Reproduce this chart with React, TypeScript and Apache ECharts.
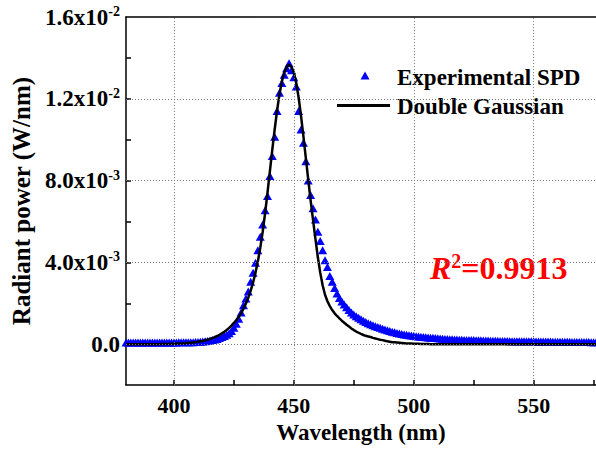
import React, { useEffect, useRef } from "react";
import * as echarts from "echarts";

const FONT = "Liberation Serif";

// Wavelength sampling grid (nm): 380 … 576, 1 nm step
const wavelengthStart = 380;
const wavelengthStep = 1;

// Experimental SPD, in units of 1e-3 W/nm
const experimentalSPD = [
  0.08, 0.08, 0.08, 0.08, 0.08, 0.08, 0.08, 0.08, 0.08, 0.08,
  0.08, 0.08, 0.08, 0.08, 0.08, 0.08, 0.08, 0.08, 0.08, 0.08,
  0.08, 0.08, 0.09, 0.09, 0.09, 0.09, 0.10, 0.10, 0.10, 0.11,
  0.11, 0.12, 0.13, 0.14, 0.16, 0.18, 0.20, 0.23, 0.26, 0.30,
  0.35, 0.40, 0.46, 0.53, 0.64, 0.80, 1.00, 1.25, 1.55, 1.90,
  2.23, 2.58, 3.05, 3.50, 3.98, 4.60, 5.25, 5.85, 6.55, 7.25,
  8.22, 9.20, 10.14, 11.40, 12.30, 12.77, 13.17, 13.50, 13.74, 13.40,
  13.05, 12.60, 11.40, 10.50, 9.85, 8.95, 8.00, 7.30, 6.65, 6.10,
  5.50, 5.05, 4.60, 4.10, 3.77, 3.33, 3.05, 2.75, 2.48, 2.26,
  2.09, 1.94, 1.81, 1.67, 1.55, 1.45, 1.37, 1.29, 1.22, 1.15,
  1.09, 1.03, 0.98, 0.93, 0.88, 0.84, 0.80, 0.76, 0.72, 0.68,
  0.64, 0.61, 0.58, 0.55, 0.52, 0.50, 0.48, 0.46, 0.44, 0.42,
  0.41, 0.39, 0.38, 0.36, 0.35, 0.34, 0.33, 0.32, 0.31, 0.30,
  0.29, 0.28, 0.27, 0.26, 0.25, 0.24, 0.24, 0.23, 0.23, 0.22,
  0.22, 0.21, 0.21, 0.20, 0.20, 0.20, 0.19, 0.19, 0.19, 0.18,
  0.18, 0.18, 0.17, 0.17, 0.17, 0.17, 0.16, 0.16, 0.16, 0.16,
  0.15, 0.15, 0.15, 0.15, 0.15, 0.14, 0.14, 0.14, 0.14, 0.14,
  0.14, 0.13, 0.13, 0.13, 0.13, 0.13, 0.13, 0.13, 0.12, 0.12,
  0.12, 0.12, 0.12, 0.12, 0.12, 0.12, 0.11, 0.11, 0.11, 0.11,
  0.11, 0.11, 0.11, 0.11, 0.10, 0.10, 0.10,
];

// Double Gaussian fit, in units of 1e-3 W/nm
const doubleGaussianFit = [
  0.00, 0.00, 0.00, 0.00, 0.00, 0.00, 0.00, 0.00, 0.00, 0.00,
  0.00, 0.00, 0.00, 0.00, 0.00, 0.01, 0.01, 0.01, 0.01, 0.01,
  0.02, 0.02, 0.03, 0.03, 0.04, 0.05, 0.06, 0.07, 0.08, 0.10,
  0.12, 0.14, 0.16, 0.19, 0.22, 0.26, 0.30, 0.35, 0.40, 0.46,
  0.53, 0.61, 0.70, 0.80, 0.91, 1.04, 1.18, 1.34, 1.52, 1.74,
  1.99, 2.28, 2.62, 3.02, 3.50, 4.06, 4.72, 5.50, 6.40, 7.40,
  8.45, 9.50, 10.50, 11.42, 12.22, 12.85, 13.30, 13.57, 13.66, 13.57,
  13.28, 12.78, 12.05, 11.15, 10.15, 9.10, 8.05, 7.02, 6.08, 5.15,
  4.25, 3.50, 2.88, 2.42, 2.10, 1.86, 1.67, 1.51, 1.38, 1.26,
  1.15, 1.05, 0.95, 0.86, 0.77, 0.69, 0.62, 0.56, 0.50, 0.45,
  0.41, 0.38, 0.35, 0.31, 0.28, 0.25, 0.22, 0.20, 0.17, 0.14,
  0.12, 0.10, 0.09, 0.08, 0.07, 0.06, 0.05, 0.04, 0.03, 0.03,
  0.02, 0.02, 0.02, 0.01, 0.01, 0.01, 0.01, 0.00, 0.00, 0.00,
  0.00, 0.00, 0.00, 0.00, 0.00, 0.00, 0.00, 0.00, 0.00, 0.00,
  0.00, 0.00, 0.00, 0.00, 0.00, 0.00, 0.00, 0.00, 0.00, 0.00,
  0.00, 0.00, 0.00, 0.00, 0.00, 0.00, 0.00, 0.00, 0.00, 0.00,
  0.00, 0.00, 0.00, 0.00, 0.00, 0.00, 0.00, 0.00, 0.00, 0.00,
  0.00, 0.00, 0.00, 0.00, 0.00, 0.00, 0.00, 0.00, 0.00, 0.00,
  0.00, 0.00, 0.00, 0.00, 0.00, 0.00, 0.00, 0.00, 0.00, 0.00,
  0.00, 0.00, 0.00, 0.00, 0.00, 0.00, 0.00,
];

const xRange = [380, 576];
const xTickValues = [400, 425, 450, 475, 500, 525, 550, 575];
const xLabelValues = [400, 450, 500, 550];

const yRange = [-2, 16]; // 1e-3 W/nm
const yTickValues = [0, 2, 4, 6, 8, 10, 12, 14];
const yLabelValues = [0, 4, 8, 12, 16];
const yLabelTexts = ["0.0", "4.0x10^-3", "8.0x10^-3", "1.2x10^-2", "1.6x10^-2"];

const seriesNames = ["Experimental SPD", "Double Gaussian"];
const rSquaredText = "0.9913";

const xTitle = "Wavelength (nm)";
const yTitle = "Radiant power (W/nm)";

const toPairs = (vals: number[]) =>
  vals.map((v, i) => [wavelengthStart + i * wavelengthStep, v]);

export default function App() {
  const ref = useRef<HTMLDivElement>(null);

  useEffect(() => {
    if (!ref.current) return;
    const chart = echarts.init(ref.current, undefined, { renderer: "svg" });

    const labelFormatter = (v: number) => {
      const idx = yLabelValues.findIndex((t) => Math.abs(t - v) < 1e-6);
      if (idx < 0) return "";
      const parts = yLabelTexts[idx].split("^");
      if (parts.length === 1) return `{m|${parts[0]}}`;
      return `{m|${parts[0]}}{e|${parts[1]}}`;
    };

    const bold = (size: number) => ({
      fontFamily: FONT,
      fontWeight: "bold",
      fontSize: size,
    });

    chart.setOption({
      animation: false,
      grid: { left: 126, top: 17, right: 0, bottom: 63 },
      xAxis: [
        {
          type: "value",
          min: xRange[0],
          max: xRange[1],
          position: "bottom",
          name: xTitle,
          nameLocation: "middle",
          nameGap: 34,
          nameTextStyle: { ...bold(23), color: "#000" },
          axisLine: { show: true, onZero: false, lineStyle: { color: "#000", width: 1.5 } },
          axisTick: {
            show: true,
            inside: true,
            length: 5,
            customValues: xTickValues,
            lineStyle: { color: "#000", width: 1.5 },
          },
          axisLabel: {
            show: true,
            customValues: xLabelValues,
            margin: 9,
            ...bold(22),
            color: "#000",
          },
          splitLine: { show: false },
        },
        {
          type: "value",
          min: xRange[0],
          max: xRange[1],
          position: "top",
          axisLine: { show: true, onZero: false, lineStyle: { color: "#000", width: 1.5 } },
          axisTick: { show: false },
          axisLabel: { show: false },
          splitLine: { show: false },
        },
      ],
      yAxis: {
        type: "value",
        min: yRange[0],
        max: yRange[1],
        interval: 2,
        name: yTitle,
        nameLocation: "middle",
        nameGap: 92,
        nameRotate: 90,
        nameTextStyle: { ...bold(25), color: "#000" },
        axisLine: { show: true, onZero: false, lineStyle: { color: "#000", width: 1.5 } },
        axisTick: {
          show: true,
          inside: true,
          length: 5,
          customValues: yTickValues,
          lineStyle: { color: "#000", width: 1.5 },
        },
        axisLabel: {
          show: true,
          customValues: yLabelValues,
          margin: 6,
          formatter: labelFormatter,
          rich: {
            m: { ...bold(23), color: "#000", lineHeight: 25 },
            e: { ...bold(14), color: "#000", verticalAlign: "top", lineHeight: 14 },
          },
        },
        splitLine: { show: false },
      },
      series: [
        {
          type: "line",
          name: "grid",
          data: [],
          silent: true,
          z: 1,
          markLine: {
            silent: true,
            symbol: ["none", "none"],
            label: { show: false },
            lineStyle: { color: "#777", width: 1, type: [1, 2] },
            emphasis: { disabled: true },
            data: [
              ...xLabelValues.map((v) => ({ xAxis: v })),
              ...yLabelValues.slice(0, 4).map((v) => ({ yAxis: v })),
            ],
          },
        },
        {
          type: "scatter",
          name: seriesNames[0],
          data: toPairs(experimentalSPD),
          symbol: "triangle",
          symbolSize: [9, 8],
          itemStyle: { color: "#0000ff", opacity: 1 },
          z: 2,
        },
        {
          type: "line",
          name: seriesNames[1],
          data: toPairs(doubleGaussianFit),
          showSymbol: false,
          symbol: "none",
          lineStyle: { color: "#000", width: 2.5 },
          z: 3,
        },
      ],
      graphic: [
        {
          type: "polygon",
          shape: { points: [[365, 71.5], [369.5, 79.5], [360.5, 79.5]] },
          style: { fill: "#0000ff" },
        },
        {
          type: "text",
          x: 397,
          y: 77,
          style: {
            text: seriesNames[0],
            ...bold(23),
            fill: "#000",
            verticalAlign: "middle",
          },
        },
        {
          type: "line",
          shape: { x1: 337, y1: 105.5, x2: 390, y2: 105.5 },
          style: { stroke: "#000", lineWidth: 3 },
        },
        {
          type: "text",
          x: 397,
          y: 106,
          style: {
            text: seriesNames[1],
            ...bold(23),
            fill: "#000",
            verticalAlign: "middle",
          },
        },
        {
          type: "text",
          x: 430,
          y: 268,
          style: {
            text: `{r|R}{s|2}{n|=${rSquaredText}}`,
            verticalAlign: "middle",
            rich: {
              r: { ...bold(32), fontStyle: "italic", fill: "#ff0000", lineHeight: 34 },
              s: { ...bold(20), fill: "#ff0000", verticalAlign: "top", lineHeight: 20 },
              n: { ...bold(32), fill: "#ff0000", lineHeight: 34 },
            },
          },
        },
      ],
    });

    return () => chart.dispose();
  }, []);

  return (
    <div
      ref={ref}
      style={{ position: "absolute", left: 0, top: 0, width: 596, height: 449 }}
    />
  );
}
